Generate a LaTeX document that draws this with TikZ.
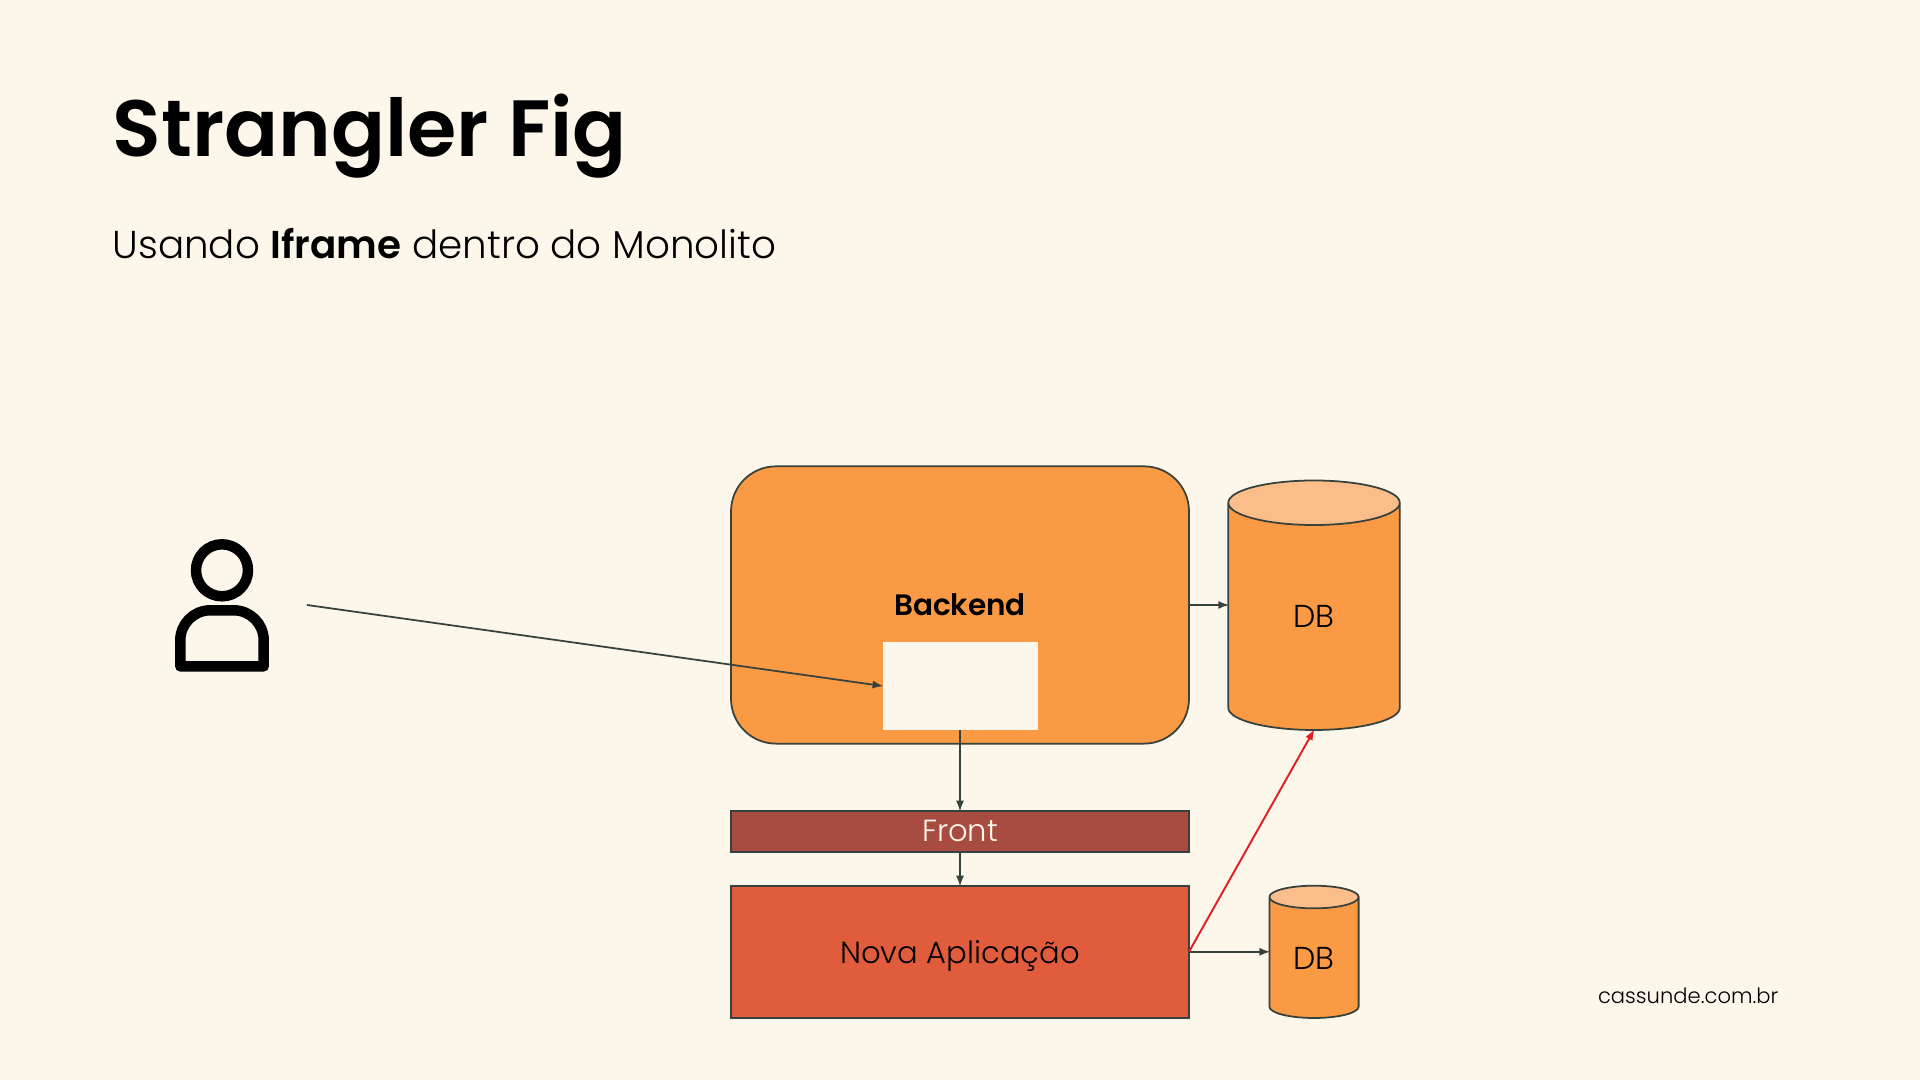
\documentclass[tikz,border=0pt]{standalone}
\usepackage{fontspec}
\setmainfont{Poppins}
\newfontfamily\lightfont{Poppins Light}
\newfontfamily\semifont{Poppins SemiBold}
\usetikzlibrary{arrows.meta,positioning,shapes.geometric}
\definecolor{paper}{HTML}{FDF6EA}
\definecolor{orangefill}{HTML}{FB9A45}
\definecolor{orangetop}{HTML}{FBBE8A}
\definecolor{frontfill}{HTML}{A84B40}
\definecolor{novafill}{HTML}{E05C3C}
\definecolor{edgecol}{HTML}{37423D}
\definecolor{redline}{HTML}{E01F28}

\begin{document}
\begin{tikzpicture}[
  block/.style={rectangle, draw=edgecol, line width=0.5pt, outer sep=0pt, inner sep=0pt, minimum width=4.58cm, align=center},
  dbase/.style={cylinder, shape border rotate=90, draw=edgecol, line width=0.5pt, outer sep=0pt, inner sep=0pt, cylinder uses custom fill, cylinder body fill=orangefill, cylinder end fill=orangetop, anchor=south, font=\lightfont\fontsize{9}{11}\selectfont},
  arrow/.style={-{Latex[length=1.1mm,width=0.8mm]}, draw=edgecol, line width=0.5pt, shorten >=-0.3pt},
  redarrow/.style={-{Latex[length=1.1mm,width=0.8mm]}, draw=redline, line width=0.55pt, shorten >=-0.3pt}
]
\fill[paper] (0,0) rectangle (19.2,10.8);
\useasboundingbox (0,0) rectangle (19.2,10.8);
\node[anchor=base west, inner sep=0pt, font=\semifont\fontsize{22.7}{28}\selectfont] (title) at (1.12,9.23) {Strangler Fig};
\node[anchor=base west, inner sep=0pt, font=\lightfont\fontsize{11.05}{13}\selectfont] (subtitle) at (1.12,8.21) {Usando {\semifont Iframe} dentro do Monolito};

\node[block, fill=orangefill, rounded corners=0.45cm, minimum height=2.773cm] (backend) at (9.6,4.75) {};
\node[font=\semifont\fontsize{8.4}{11}\selectfont] (backendlabel) at (9.6,4.75) {Backend};
\node[fill=paper, minimum width=1.55cm, minimum height=0.877cm, inner sep=0pt, outer sep=0pt] (iframe) at (9.6,3.94) {};
\node[block, fill=frontfill, text=paper, minimum height=0.41cm, below=0.67cm of backend, font=\lightfont\fontsize{8.7}{11}\selectfont] (front) {Front};
\node[block, fill=novafill, minimum height=1.323cm, below=0.34cm of front, font=\lightfont\fontsize{8.7}{11}\selectfont, text depth=0pt] (nova) {Nova Aplicação};
\node[dbase, minimum width=1.715cm, minimum height=2.495cm, aspect=1.08] (bigdb) at (13.14,3.5) {DB};
\node[dbase, minimum width=0.892cm, minimum height=1.323cm, aspect=0.55] (smalldb) at (13.14,0.62) {DB};

% user icon
\coordinate (user) at (3.07,4.75);
\draw[line width=2.98pt] (2.22,5.097) circle (0.26);
\draw[line width=2.98pt, line join=round] (1.803,4.136) [rounded corners=0.3cm] -- (1.803,4.697) -- (2.637,4.697) [rounded corners=0pt] -- (2.637,4.136) -- cycle;

\draw[arrow] (user) -- (iframe.west);
\draw[arrow] (backend.east) -- (backend.east -| bigdb.west);
\draw[arrow] (iframe.south) -- (front.north);
\draw[arrow] (front.south) -- (nova.north);
\draw[arrow] (nova.east) -- (nova.east -| smalldb.west);
\draw[redarrow] (nova.east) -- (bigdb.south);

\node[anchor=base east, inner sep=0pt, font=\lightfont\fontsize{6}{8}\selectfont] (site) at (17.79,0.76) {cassunde.com.br};
\end{tikzpicture}
\end{document}
